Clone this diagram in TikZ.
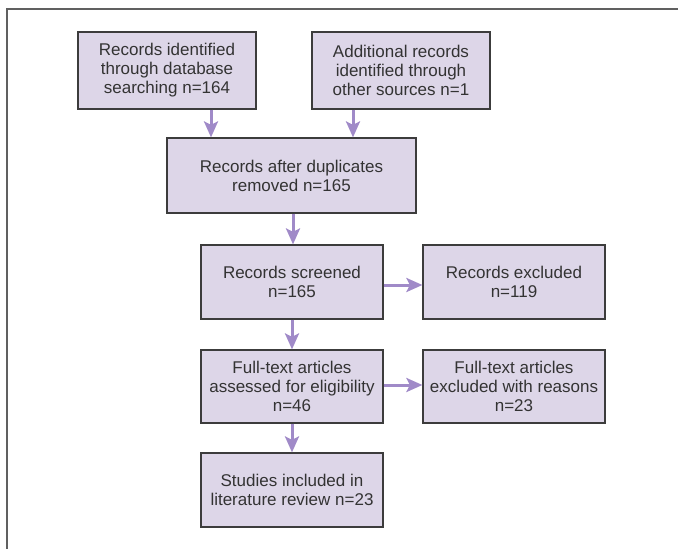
\documentclass[tikz,border=0pt]{standalone}
\usepackage{fontspec}
\setmainfont{Liberation Sans}
\usetikzlibrary{arrows.meta}
\definecolor{boxfill}{HTML}{DDD6E8}
\definecolor{boxline}{HTML}{3C3C3C}
\definecolor{arrowc}{HTML}{A08AC8}
\definecolor{framec}{HTML}{606060}
\definecolor{txt}{HTML}{333333}
\begin{document}
\begin{tikzpicture}[x=1pt,y=-1pt,
  box/.style={draw=boxline,line width=1.2pt,fill=boxfill,inner sep=0pt,align=center,
    text=txt,font=\fontsize{17}{19}\selectfont,minimum height=75pt},
  flow/.style={draw=arrowc,line width=3pt,-{Stealth[length=16pt,width=14pt,inset=3.5pt]}}]
\useasboundingbox (0,0) rectangle (678,549);
\draw[framec,line width=2pt] (6.5,549) -- (6.5,8.5) -- (678,8.5);
\node[box,minimum width=178pt,minimum height=77pt] (a) at (167,70.5) {Records identified\\through database\\searching n=164};
\node[box,minimum width=178pt,minimum height=77pt] (b) at (401,70.5) {Additional records\\identified through\\other sources n=1};
\node[box,minimum width=249pt] (c) at (291.5,175.5) {Records after duplicates\\removed n=165};
\node[box,minimum width=182pt,minimum height=74pt] (d) at (292,282) {Records screened\\n=165};
\node[box,minimum width=182pt,minimum height=74pt] (e) at (514,282) {Records excluded\\n=119};
\node[box,minimum width=182pt,minimum height=73pt] (f) at (292,386.5) {Full-text articles\\assessed for eligibility\\n=46};
\node[box,minimum width=182pt,minimum height=73pt] (g) at (514,386.5) {Full-text articles\\excluded with reasons\\n=23};
\node[box,minimum width=182pt,minimum height=74pt] (h) at (292,490) {Studies included in\\literature review n=23};
\draw[flow] (a.south -| 211,0) -- (c.north -| 211,0);
\draw[flow] (b.south -| 353,0) -- (c.north -| 353,0);
\draw[flow] (c.south -| 293,0) -- (d.north -| 293,0);
\draw[flow] (d) -- (f);
\draw[flow] (f) -- (h);
\draw[flow] ([yshift=-3pt]d.east) -- ([yshift=-3pt]e.west);
\draw[flow] ([yshift=1.5pt]f.east) -- ([yshift=1.5pt]g.west);
\end{tikzpicture}
\end{document}
